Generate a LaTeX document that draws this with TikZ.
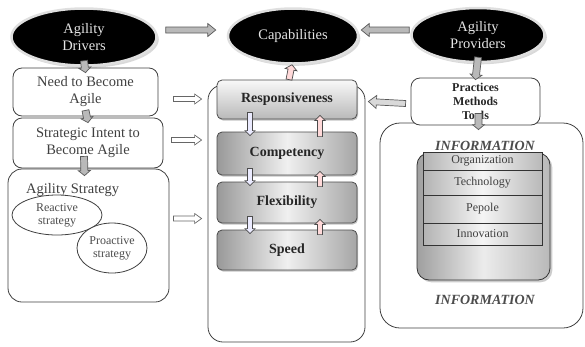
\documentclass[tikz,border=0pt]{standalone}
\usepackage{fontspec}
\setmainfont{Liberation Serif}
\usetikzlibrary{shapes.geometric,calc,shadows}

% block arrow from #2 to #3: shaft half width #4, head half width #5, head length #6
\newcommand{\blockarrow}[6][]{%
    \coordinate (ba-a) at (#2);
    \coordinate (ba-b) at (#3);
    \coordinate (ba-h) at ($(ba-b)!#6!(ba-a)$);
    \draw[#1] ($(ba-a)!#4!90:(ba-b)$) -- ($(ba-h)!#4!90:(ba-b)$) -- ($(ba-h)!#5!90:(ba-b)$)
        -- (ba-b) -- ($(ba-h)!#5!-90:(ba-b)$) -- ($(ba-h)!#4!-90:(ba-b)$) -- ($(ba-a)!#4!-90:(ba-b)$) -- cycle;
}

\begin{document}
\begin{tikzpicture}[x=1pt,y=-1pt]
    \tikzstyle{every node}+=[inner sep=0pt, align=center, font=\fontsize{14.5}{17}\selectfont]
    \tikzstyle{oval}=[ellipse, fill=black, draw=gray!25, line width=2.5pt, text=gray!20, drop shadow={opacity=0.3}]
    \tikzstyle{wbox}=[rectangle, rounded corners=9pt, draw=black!75, line width=0.8pt, fill=white, text=black!75]
    \tikzstyle{capbox}=[rectangle, rounded corners=5pt, draw=black!70, line width=0.8pt, minimum width=140pt,
        left color=gray!80, right color=gray!70, middle color=gray!12, text=black!85,
        font=\bfseries\fontsize{14}{16}\selectfont, drop shadow={opacity=0.45, shadow xshift=1pt, shadow yshift=-1.5pt}]
    \tikzstyle{layer}=[rectangle, draw=black!80, line width=0.8pt, minimum width=119pt,
        left color=gray!60, right color=gray!55, middle color=gray!8, text=black!75, font=\fontsize{12}{13}\selectfont]
    \tikzstyle{small}=[font=\fontsize{12}{13}\selectfont, text=black!70]
    \tikzstyle{greyarrow}=[fill=gray!55, draw=black!65, line width=0.7pt]
    \tikzstyle{openarrow}=[fill=white, draw=black!60, line width=0.7pt]
    \tikzstyle{downarrow}=[fill=blue!8, draw=black!70, line width=0.7pt]
    \tikzstyle{uparrow}=[fill=red!15, draw=black!70, line width=0.7pt]
    \useasboundingbox (0,0) rectangle (585,346);

    % top row
    \node[oval, minimum width=145pt, minimum height=57pt] (drivers) at (84,37) {Agility\\Drivers};
    \node[oval, minimum width=130pt, minimum height=55pt] (capab) at (293,36) {Capabilities};
    \node[oval, minimum width=133pt, minimum height=54pt] (provid) at (478,35) {Agility\\Providers};

    % left column
    \node[wbox, minimum width=145pt, minimum height=48pt] (need) at (85.5,92) {Need to Become\\Agile};
    \node[wbox, minimum width=150pt, minimum height=50pt] (intent) at (88,143) {Strategic Intent to\\Become Agile};
    \node[wbox, rounded corners=14pt, minimum width=161pt, minimum height=133pt] (strategy) at (88.5,235.5) {};
    \node[anchor=west, text=black!75] (stratlbl) at (26,190) {Agility Strategy};
    \node[ellipse, draw=black!75, line width=0.8pt, fill=white, minimum width=90pt, minimum height=40pt, small] (reactive) at (57,215) {Reactive\\strategy};
    \node[ellipse, draw=black!75, line width=0.8pt, fill=white, minimum width=70pt, minimum height=50pt, small] (proactive) at (112,248) {Proactive\\strategy};

    % centre column
    \node[wbox, rounded corners=15pt, minimum width=157pt, minimum height=257pt] (bigbox) at (286.5,213.5) {};
    \node[capbox, minimum height=39pt, shading=axis, top color=gray!5, bottom color=gray!55, shading angle=0] (resp) at (287,99.5) {Responsiveness};
    \node[capbox, minimum height=43pt] (comp) at (287,153.5) {Competency};
    \node[capbox, minimum height=41pt] (flex) at (287,202.5) {Flexibility};
    \node[capbox, minimum height=40pt] (speed) at (287,250) {Speed};

    % right column
    \node[wbox, rounded corners=20pt, minimum width=203pt, minimum height=205pt] (infobox) at (481.5,225.5) {};
    \node[wbox, minimum width=129pt, minimum height=47pt, font=\bfseries\fontsize{12}{14}\selectfont, text=black!85] (prac) at (475.5,101.5) {Practices\\Methods\\Tools};
    \node[font=\bfseries\itshape\fontsize{14}{16}\selectfont, text=black!70] (infotop) at (485,146) {INFORMATION};
    \node[rectangle, rounded corners=12pt, draw=black!80, line width=0.8pt, minimum width=133pt, minimum height=127pt,
        left color=gray!75, right color=gray!55, middle color=gray!15, drop shadow={opacity=0.4}] (inner) at (483.5,216.5) {};
    \node[layer, minimum height=18pt] (org) at (482.5,161) {Organization};
    \node[layer, minimum height=25pt] (tech) at (482.5,182.5) {Technology};
    \node[layer, minimum height=28pt] (people) at (482.5,209) {Pepole};
    \node[layer, minimum height=22pt] (innov) at (482.5,234) {Innovation};
    \node[font=\bfseries\itshape\fontsize{14}{16}\selectfont, text=black!70] (infobot) at (485,300) {INFORMATION};

    % arrows between the ovals
    \blockarrow[greyarrow]{$(drivers.east)+(8,-7)$}{$(capab.west)+(-11,-6)$}{3pt}{6.5pt}{8pt}
    \blockarrow[greyarrow]{$(provid.west)+(-1,-5)$}{$(capab.east)+(2,-6)$}{3pt}{6.5pt}{8pt}

    % short down arrows
    \blockarrow[greyarrow]{$(drivers.south)+(0,-6)$}{$(need.north)+(0,5)$}{3.5pt}{6pt}{5pt}
    \blockarrow[greyarrow]{$(need.south)+(0,-6)$}{$(intent.north)+(0,5)$}{3.5pt}{6pt}{5pt}
    \blockarrow[greyarrow]{$(intent.south)+(-4,-12)$}{$(strategy.north)+(-4,7)$}{3.5pt}{6pt}{5pt}
    \blockarrow[greyarrow]{$(provid.south)+(0,-6)$}{$(prac.north)+(0,2)$}{3.5pt}{6pt}{5pt}
    \blockarrow[greyarrow]{$(prac.south)+(3,-12)$}{$(infobox.north)+(-3,7)$}{3.5pt}{6pt}{5pt}

    % into the capabilities
    \blockarrow[openarrow]{$(need.east)+(15,7)$}{$(need.east -| bigbox.west)+(-6,7)$}{2.5pt}{5pt}{7pt}
    \blockarrow[openarrow]{$(intent.east)+(8,-3)$}{$(intent.east -| bigbox.west)+(-6,-3)$}{2.5pt}{5pt}{7pt}
    \blockarrow[openarrow]{$(strategy.east)+(4,-17)$}{$(strategy.east -| bigbox.west)+(-6,-17)$}{2.5pt}{5pt}{7pt}
    \blockarrow[greyarrow, fill=gray!30]{$(prac.west)+(-5,2)$}{$(resp.east)+(11,2)$}{3pt}{6.5pt}{8pt}

    % up and down the capabilities
    \blockarrow[uparrow]{$(resp.north)+(2,0)$}{$(capab.south)+(-1,0)$}{3pt}{6pt}{5pt}
    \foreach \a/\b in {resp/comp, comp/flex, flex/speed}{
        \blockarrow[downarrow]{$(\a.south)+(-37,-7)$}{$(\b.north)+(-37,4)$}{2.5pt}{5pt}{5pt}
        \blockarrow[uparrow]{$(\b.north)+(33,5)$}{$(\a.south)+(33,-4)$}{2.5pt}{5pt}{5pt}
    }
\end{tikzpicture}
\end{document}
